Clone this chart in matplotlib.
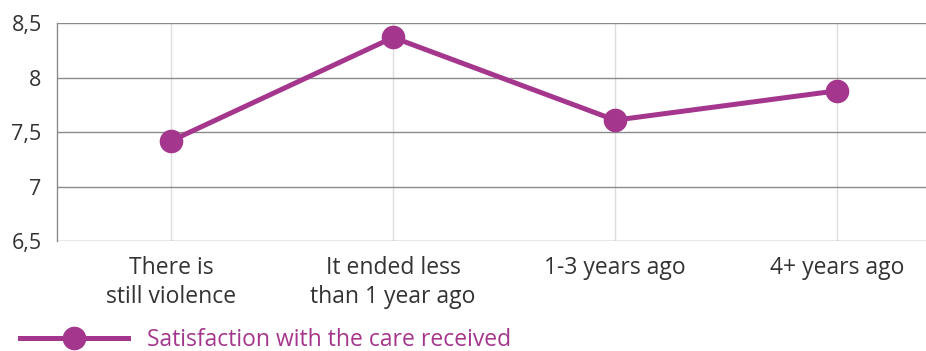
import matplotlib
matplotlib.use("Agg")
import matplotlib.pyplot as plt
from matplotlib.ticker import FuncFormatter

categories = ["There is\nstill violence", "It ended less\nthan 1 year ago", "1-3 years ago", "4+ years ago"]
satisfaction = [7.42, 8.37, 7.61, 7.88]
series_name = "Satisfaction with the care received"
yticks = [6.5, 7, 7.5, 8, 8.5]

plt.rcParams['font.family'] = ['Open Sans', 'DejaVu Sans']
W, H = 926, 351
fig = plt.figure(figsize=(W/100, H/100), dpi=100)
left, right, top, bottom = 57, 926, 23.3, 241
ax = fig.add_axes([left/W, 1-bottom/H, (right-left)/W, (bottom-top)/H])

color = "#A5368D"
x = list(range(len(categories)))
line, = ax.plot(x, satisfaction, color=color, lw=3.6, marker='o', ms=16,
                label=series_name, zorder=3, clip_on=False)

ax.set_ylim(6.5, 8.5)
ax.set_yticks(yticks)
ax.yaxis.set_major_formatter(FuncFormatter(lambda v, p: f"{v:g}".replace('.', ',')))
ax.set_xlim(-0.514, 3.40)
ax.set_xticks(x)
ax.set_xticklabels(categories)
ax.tick_params(axis='both', length=0, colors='#333333')
ax.tick_params(axis='y', pad=11, labelsize=15.5)
ax.tick_params(axis='x', pad=11, labelsize=16.5)
for lab in ax.get_xticklabels():
    lab.set_linespacing(1.25)

ax.grid(axis='y', color='#8a8a8a', lw=1.0)
ax.grid(axis='x', color='#dddddd', lw=1.0)
ax.set_axisbelow(True)
for s in ['top', 'right', 'bottom']:
    ax.spines[s].set_visible(False)
ax.spines['left'].set_color('#8a8a8a')
ax.spines['left'].set_linewidth(1.0)

leg = fig.legend(handles=[line], loc='center left', bbox_to_anchor=(20/W, 1-340/H),
                 frameon=False, fontsize=16.5, handlelength=4.7, handletextpad=0.85,
                 labelcolor=color, borderaxespad=0, borderpad=0)
fig.savefig("out.png", dpi=100)
